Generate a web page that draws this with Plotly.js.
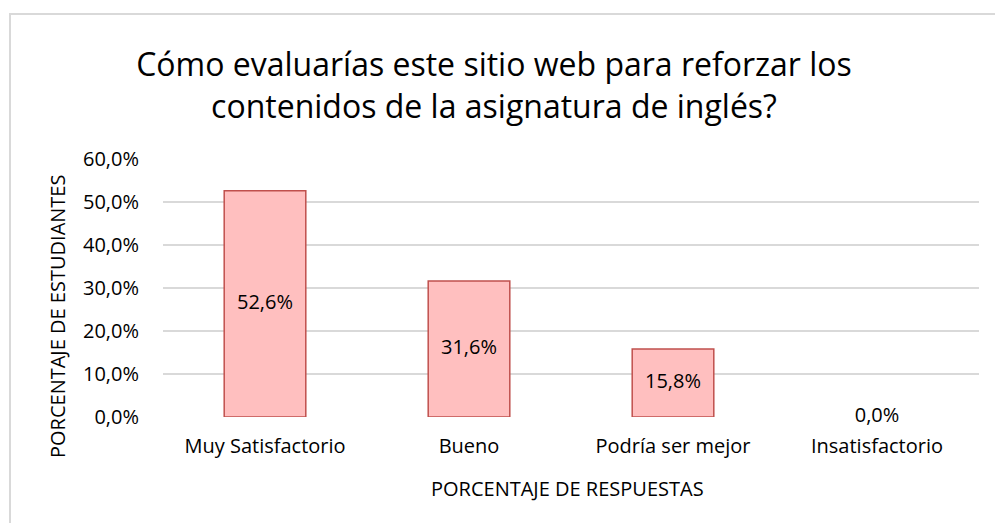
<!DOCTYPE html>
<html>
<head>
<meta charset="utf-8">
<script src="https://cdn.plot.ly/plotly-3.0.1.min.js"></script>
<style>
  html, body { margin: 0; padding: 0; background: #ffffff; }
  #wrap { position: relative; width: 995px; height: 523px; overflow: hidden; }
  #frame { position: absolute; left: 9px; top: 13px; width: 1000px; height: 600px;
           border-left: 2px solid #d9d9d9; border-top: 2px solid #d9d9d9; pointer-events: none; }
  #chart { position: absolute; left: 0; top: 0; width: 995px; height: 523px; }
</style>
</head>
<body>
<div id="wrap">
  <div id="chart"></div>
  <div id="frame"></div>
</div>
<script>
const categories = ["Muy Satisfactorio", "Bueno", "Podría ser mejor", "Insatisfactorio"];
const percentages = [52.6, 31.6, 15.8, 0.0];
const yTickValues = [0, 10, 20, 30, 40, 50, 60];

const chartTitle = "Cómo evaluarías este sitio web para reforzar los<br>contenidos de la asignatura de inglés?";
const xTitle = "PORCENTAJE DE RESPUESTAS";
const yTitle = "PORCENTAJE DE ESTUDIANTES";

const FONT = "'Open Sans', 'Noto Sans', sans-serif";
const W = 995, H = 523;
const M = { l: 163, r: 16, t: 159, b: 106 };
const PW = W - M.l - M.r, PH = H - M.t - M.b;

function fmt(v) { return v.toFixed(1).replace('.', ',') + '%'; }

const bars = {
  type: 'bar',
  x: categories,
  y: percentages,
  width: 0.4,
  marker: {
    color: '#ffbfbf',
    line: { color: '#c0504d', width: percentages.map(v => v > 0 ? 1.5 : 0) }
  },
  hoverinfo: 'skip',
  showlegend: false
};

const labels = {
  type: 'scatter',
  mode: 'text',
  x: categories,
  y: percentages.map(v => v / 2),
  text: percentages.map(fmt),
  textposition: 'middle center',
  textfont: { family: FONT, size: 20, color: '#000000' },
  hoverinfo: 'skip',
  showlegend: false,
  cliponaxis: false
};

const layout = {
  width: W,
  height: H,
  paper_bgcolor: 'rgba(0,0,0,0)',
  plot_bgcolor: 'rgba(0,0,0,0)',
  margin: { l: M.l, r: M.r, t: M.t, b: M.b, pad: 0 },
  separators: ',.',
  font: { family: FONT, color: '#000000' },
  title: {
    text: chartTitle,
    font: { family: FONT, size: 32, color: '#000000' },
    xref: 'container', x: 494 / W, xanchor: 'center',
    yref: 'container', y: 1 - 76 / H, yanchor: 'middle'
  },
  xaxis: {
    type: 'category',
    showgrid: false,
    zeroline: false,
    showline: false,
    ticks: '',
    tickfont: { family: FONT, size: 20, color: '#000000' },
    ticklabelstandoff: 15,
    fixedrange: true
  },
  yaxis: {
    range: [0, 60],
    tickvals: yTickValues,
    ticktext: yTickValues.map(fmt),
    showgrid: true,
    gridcolor: '#d9d9d9',
    gridwidth: 1.5,
    zeroline: false,
    showline: false,
    ticks: '',
    tickfont: { family: FONT, size: 20, color: '#000000' },
    ticklabelstandoff: 23,
    fixedrange: true
  },
  annotations: [
    {
      text: xTitle, xref: 'paper', yref: 'paper',
      x: (567 - M.l) / PW, y: ((H - M.b) - 488) / PH, xanchor: 'center', yanchor: 'middle',
      showarrow: false, font: { family: FONT, size: 20, color: '#000000' }
    },
    {
      text: yTitle, xref: 'paper', yref: 'paper',
      x: (57 - M.l) / PW, y: ((H - M.b) - 316) / PH, xanchor: 'center', yanchor: 'middle',
      textangle: -90,
      showarrow: false, font: { family: FONT, size: 20, color: '#000000' }
    }
  ]
};

Plotly.newPlot('chart', [bars, labels], layout, { staticPlot: true, displayModeBar: false });
</script>
</body>
</html>
